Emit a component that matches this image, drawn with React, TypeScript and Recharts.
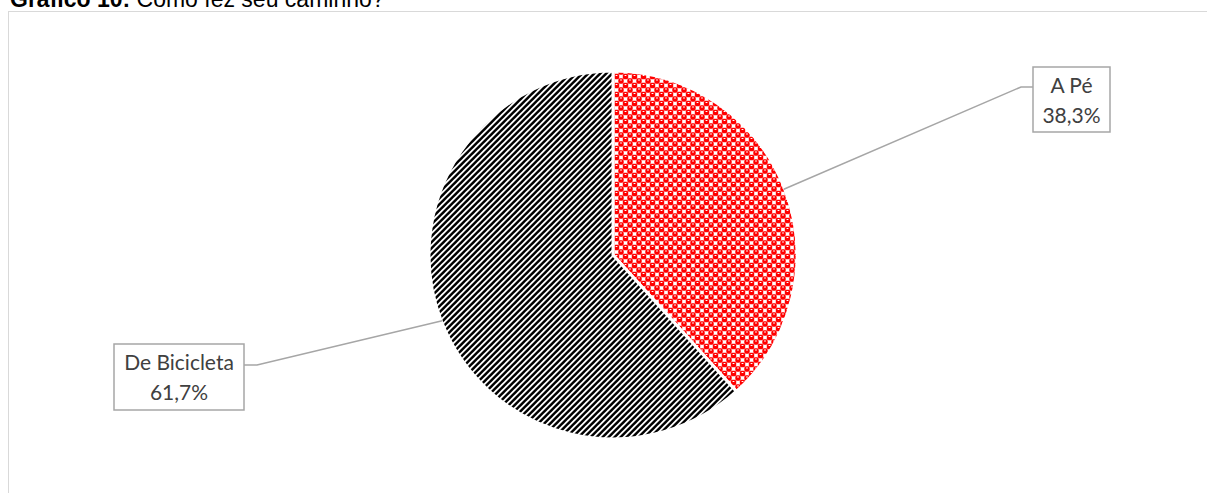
import React from "react";
import { PieChart, Pie, Cell } from "recharts";

// valores
const categorias = ["A Pé", "De Bicicleta"];
const percentuais = [38.3, 61.7];
const padroes = ["url(#pontosVermelhos)", "url(#listrasPretas)"];

const dados = categorias.map((nome, i) => ({ nome, valor: percentuais[i] }));

const RADIAN = Math.PI / 180;

// posição das caixas de rótulo em relação ao centro da pizza
const caixas = [
  { elbowX: 408, elbowY: -168, left: 420, top: -188, w: 77, h: 65 },
  { elbowX: -356, elbowY: 110, left: -499, top: 89, w: 130, h: 66 },
];

const renderLabel = (props: any) => {
  const { cx, cy, midAngle, outerRadius, index } = props;
  const c = caixas[index];
  const sx = cx + (outerRadius - 1) * Math.cos(-midAngle * RADIAN);
  const sy = cy + (outerRadius - 1) * Math.sin(-midAngle * RADIAN);
  const ex = cx + c.elbowX;
  const ey = cy + c.elbowY;
  const bx = cx + c.left;
  const by = cy + c.top;
  const joinX = index === 0 ? bx : bx + c.w;
  const tx = bx + c.w / 2;
  return (
    <g>
      <polyline
        points={`${sx},${sy} ${ex},${ey} ${joinX},${ey}`}
        fill="none"
        stroke="#a6a6a6"
        strokeWidth={1.5}
      />
      <rect x={bx} y={by} width={c.w} height={c.h} fill="#fff" stroke="#a6a6a6" strokeWidth={1.5} />
      <text x={tx} y={by + 26} textAnchor="middle" fontFamily="Lato" fontSize={21} fill="#404040">
        {categorias[index]}
      </text>
      <text x={tx} y={by + 56} textAnchor="middle" fontFamily="Lato" fontSize={21} fill="#404040">
        {percentuais[index].toFixed(1).replace(".", ",") + "%"}
      </text>
    </g>
  );
};

export default function App() {
  return (
    <div style={{ position: "fixed", left: 0, top: 0, width: 1207, height: 493, overflow: "hidden", background: "#fff" }}>
      <div
        style={{
          position: "absolute",
          left: 10,
          top: -12,
          fontFamily: "'Liberation Sans', Arial, sans-serif",
          fontSize: 23,
          lineHeight: "23px",
          whiteSpace: "nowrap",
          color: "#000",
        }}
      >
        <b>Gráfico 10:</b> Como fez seu caminho?
      </div>
      <div
        style={{
          position: "absolute",
          left: 8,
          top: 11,
          width: 1300,
          height: 600,
          border: "1px solid #d9d9d9",
        }}
      />
      <div style={{ position: "absolute", left: 0, top: 0 }}>
        <PieChart width={1207} height={493} margin={{ top: 0, right: 0, bottom: 0, left: 0 }}>
          <defs>
            <pattern id="listrasPretas" patternUnits="userSpaceOnUse" width={6} height={6}>
              <rect width={6} height={6} fill="#fff" />
              <polygon points="0,0 3.4,0 0,3.4" fill="#000" />
              <polygon points="0,6 6,0 6,3.4 3.4,6" fill="#000" />
            </pattern>
            <pattern id="pontosVermelhos" patternUnits="userSpaceOnUse" width={9} height={9}>
              <rect width={9} height={9} fill="#fff" />
              <rect x={1.8} y={1.8} width={5.4} height={5.4} rx={1.6} fill="#ff0000" />
              <rect x={-2.7} y={-2.7} width={5.4} height={5.4} rx={1.6} fill="#ff0000" />
              <rect x={6.3} y={-2.7} width={5.4} height={5.4} rx={1.6} fill="#ff0000" />
              <rect x={-2.7} y={6.3} width={5.4} height={5.4} rx={1.6} fill="#ff0000" />
              <rect x={6.3} y={6.3} width={5.4} height={5.4} rx={1.6} fill="#ff0000" />
              <rect x={3.6} y={3} width={1.8} height={1} fill="#fff" />
              <rect x={-0.9} y={7.5} width={1.8} height={1} fill="#fff" />
              <rect x={8.1} y={7.5} width={1.8} height={1} fill="#fff" />
            </pattern>
          </defs>
          <Pie
            data={dados}
            dataKey="valor"
            nameKey="nome"
            cx={613}
            cy={255}
            outerRadius={184}
            startAngle={90}
            endAngle={-270}
            stroke="#fff"
            strokeWidth={3}
            label={renderLabel}
            labelLine={false}
            isAnimationActive={false}
          >
            {dados.map((d, i) => (
              <Cell key={d.nome} fill={padroes[i]} />
            ))}
          </Pie>
        </PieChart>
      </div>
    </div>
  );
}
